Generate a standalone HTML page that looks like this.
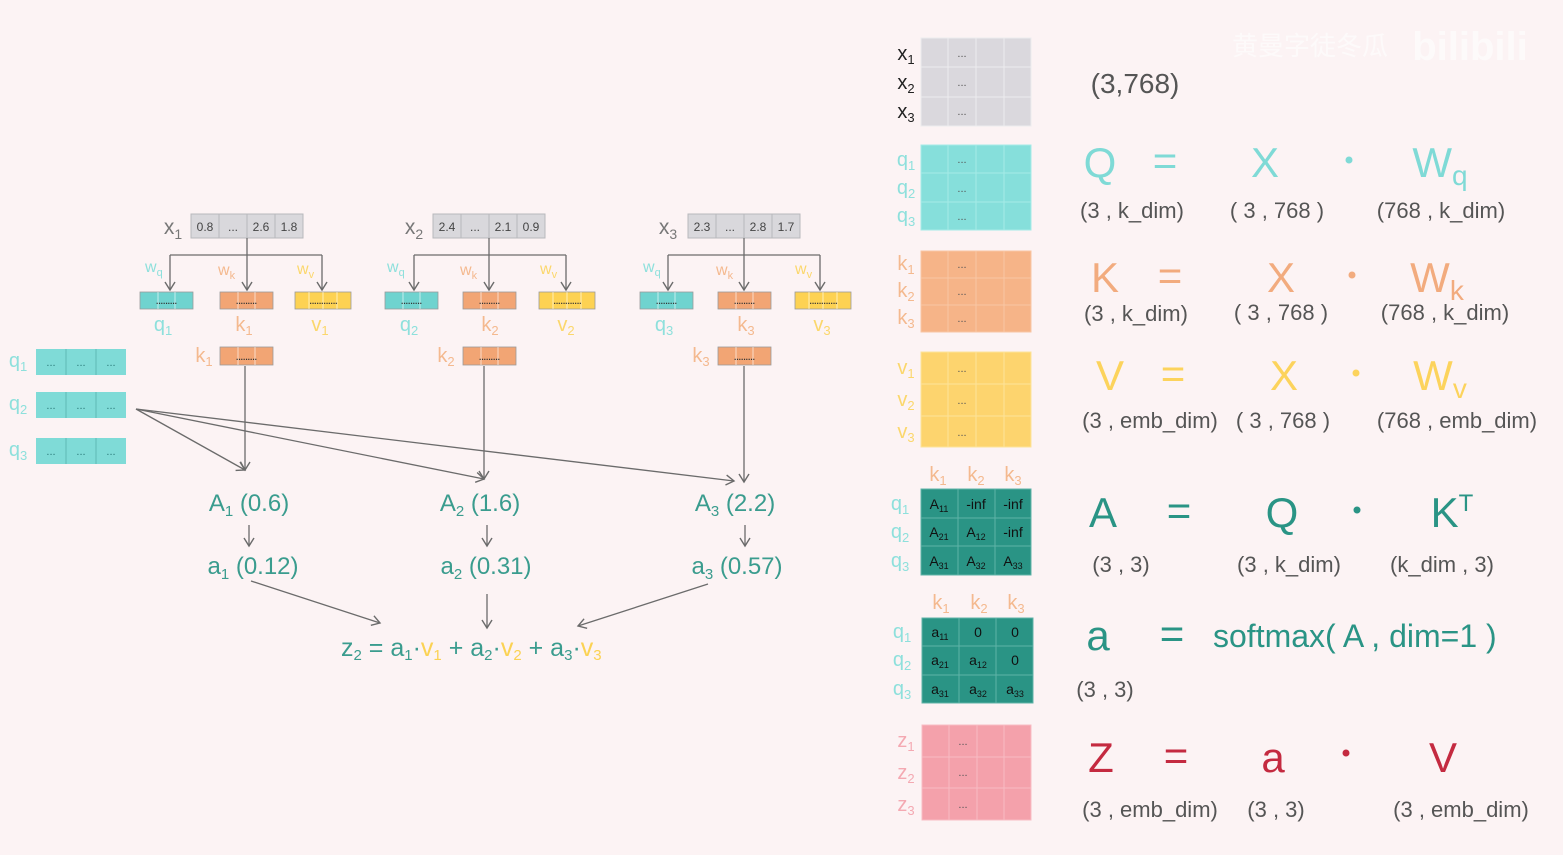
<!DOCTYPE html>
<html><head><meta charset="utf-8"><style>
html,body{margin:0;padding:0;background:#fcf3f4;}
svg{display:block;font-family:"Liberation Sans","Noto Sans CJK SC",sans-serif;}
</style></head><body>
<svg width="1563" height="855" viewBox="0 0 1563 855" xmlns="http://www.w3.org/2000/svg">
<defs>
<marker id="ar" markerWidth="12" markerHeight="12" refX="10" refY="6" orient="auto" markerUnits="userSpaceOnUse">
<path d="M2,1 L10,6 L2,11" fill="none" stroke="#6b6b6b" stroke-width="1.4"/>
</marker>
</defs>
<rect width="1563" height="855" fill="#fcf3f4"/>
<text x="1310" y="55" font-size="26" fill="#ffffff" opacity="0.6" text-anchor="middle">黄曼字徒冬瓜</text>
<text x="1470" y="60" font-size="40" font-weight="bold" fill="#ffffff" opacity="0.6" text-anchor="middle">bilibili</text>

<!-- LEFT GROUPS -->
<g id="g1">
<text x="173" y="234" font-size="21" fill="#777" text-anchor="middle">x<tspan font-size="14" dy="5">1</tspan></text>
<g stroke="#b8b8bc" stroke-width="1" fill="#d9d8dc"><rect x="191" y="214" width="28" height="24"/><rect x="219" y="214" width="28" height="24"/><rect x="247" y="214" width="28" height="24"/><rect x="275" y="214" width="28" height="24"/></g>
<g font-size="12" fill="#444" text-anchor="middle"><text x="205" y="231">0.8</text><text x="233" y="231">...</text><text x="261" y="231">2.6</text><text x="289" y="231">1.8</text></g>
</g>
<g id="g2">
<text x="414" y="234" font-size="21" fill="#777" text-anchor="middle">x<tspan font-size="14" dy="5">2</tspan></text>
<g stroke="#b8b8bc" stroke-width="1" fill="#d9d8dc"><rect x="433" y="214" width="28" height="24"/><rect x="461" y="214" width="28" height="24"/><rect x="489" y="214" width="28" height="24"/><rect x="517" y="214" width="28" height="24"/></g>
<g font-size="12" fill="#444" text-anchor="middle"><text x="447" y="231">2.4</text><text x="475" y="231">...</text><text x="503" y="231">2.1</text><text x="531" y="231">0.9</text></g>
</g>
<g id="g3">
<text x="668" y="234" font-size="21" fill="#777" text-anchor="middle">x<tspan font-size="14" dy="5">3</tspan></text>
<g stroke="#b8b8bc" stroke-width="1" fill="#d9d8dc"><rect x="688" y="214" width="28" height="24"/><rect x="716" y="214" width="28" height="24"/><rect x="744" y="214" width="28" height="24"/><rect x="772" y="214" width="28" height="24"/></g>
<g font-size="12" fill="#444" text-anchor="middle"><text x="702" y="231">2.3</text><text x="730" y="231">...</text><text x="758" y="231">2.8</text><text x="786" y="231">1.7</text></g>
</g>

<!-- trees -->
<g stroke="#6b6b6b" stroke-width="1.3" fill="none">
<path d="M247,238 V290" marker-end="url(#ar)"/><path d="M170,255 H322"/><path d="M170,255 V290" marker-end="url(#ar)"/><path d="M322,255 V290" marker-end="url(#ar)"/>
<path d="M489,238 V290" marker-end="url(#ar)"/><path d="M414,255 H566"/><path d="M414,255 V290" marker-end="url(#ar)"/><path d="M566,255 V290" marker-end="url(#ar)"/>
<path d="M744,238 V290" marker-end="url(#ar)"/><path d="M668,255 H820"/><path d="M668,255 V290" marker-end="url(#ar)"/><path d="M820,255 V290" marker-end="url(#ar)"/>
</g>
<g font-size="16">
<text x="145" y="272" fill="#8ee0dc">w<tspan font-size="11" dy="4">q</tspan></text>
<text x="218" y="275" fill="#f4b98f">w<tspan font-size="11" dy="4">k</tspan></text>
<text x="297" y="274" fill="#fbd76c">w<tspan font-size="11" dy="4">v</tspan></text>
<text x="387" y="272" fill="#8ee0dc">w<tspan font-size="11" dy="4">q</tspan></text>
<text x="460" y="275" fill="#f4b98f">w<tspan font-size="11" dy="4">k</tspan></text>
<text x="540" y="274" fill="#fbd76c">w<tspan font-size="11" dy="4">v</tspan></text>
<text x="643" y="272" fill="#8ee0dc">w<tspan font-size="11" dy="4">q</tspan></text>
<text x="716" y="275" fill="#f4b98f">w<tspan font-size="11" dy="4">k</tspan></text>
<text x="795" y="274" fill="#fbd76c">w<tspan font-size="11" dy="4">v</tspan></text>
</g>

<!-- qkv small boxes -->
<g stroke="#9a9a9a" stroke-width="0.8">
<g fill="#6fd3cf"><rect x="140" y="292" width="53" height="17"/><rect x="385" y="292" width="53" height="17"/><rect x="640" y="292" width="53" height="17"/></g>
<g fill="#f2a574"><rect x="220" y="292" width="53" height="17"/><rect x="463" y="292" width="53" height="17"/><rect x="718" y="292" width="53" height="17"/>
<rect x="220" y="347" width="53" height="18"/><rect x="463" y="347" width="53" height="18"/><rect x="718" y="347" width="53" height="18"/></g>
<g fill="#fdd253"><rect x="295" y="292" width="56" height="17"/><rect x="539" y="292" width="56" height="17"/><rect x="795" y="292" width="56" height="17"/></g>
</g>
<g stroke="#ffffff" stroke-opacity="0.6" stroke-width="1">
<path d="M158,292v17M175,292v17M403,292v17M420,292v17M658,292v17M675,292v17"/>
<path d="M238,292v17M255,292v17M481,292v17M498,292v17M736,292v17M753,292v17"/>
<path d="M238,347v18M255,347v18M481,347v18M498,347v18M736,347v18M753,347v18"/>
<path d="M309,292v17M323,292v17M337,292v17M553,292v17M567,292v17M581,292v17M809,292v17M823,292v17M837,292v17"/>
</g>
<g font-size="12" fill="#333" text-anchor="middle" letter-spacing="-1">
<text x="166" y="304">.........</text><text x="411" y="304">.........</text><text x="666" y="304">.........</text>
<text x="246" y="304">.........</text><text x="489" y="304">.........</text><text x="744" y="304">.........</text>
<text x="246" y="360">.........</text><text x="489" y="360">.........</text><text x="744" y="360">.........</text>
<text x="323" y="304">............</text><text x="567" y="304">............</text><text x="823" y="304">............</text>
</g>
<g font-size="20" text-anchor="middle">
<text x="163" y="331" fill="#8ee0dc">q<tspan font-size="13" dy="4">1</tspan></text>
<text x="244" y="331" fill="#f4b98f">k<tspan font-size="13" dy="4">1</tspan></text>
<text x="320" y="331" fill="#fbd76c">v<tspan font-size="13" dy="4">1</tspan></text>
<text x="409" y="331" fill="#8ee0dc">q<tspan font-size="13" dy="4">2</tspan></text>
<text x="490" y="331" fill="#f4b98f">k<tspan font-size="13" dy="4">2</tspan></text>
<text x="566" y="331" fill="#fbd76c">v<tspan font-size="13" dy="4">2</tspan></text>
<text x="664" y="331" fill="#8ee0dc">q<tspan font-size="13" dy="4">3</tspan></text>
<text x="746" y="331" fill="#f4b98f">k<tspan font-size="13" dy="4">3</tspan></text>
<text x="822" y="331" fill="#fbd76c">v<tspan font-size="13" dy="4">3</tspan></text>
<text x="204" y="362" fill="#f4b98f">k<tspan font-size="13" dy="4">1</tspan></text>
<text x="446" y="362" fill="#f4b98f">k<tspan font-size="13" dy="4">2</tspan></text>
<text x="701" y="362" fill="#f4b98f">k<tspan font-size="13" dy="4">3</tspan></text>
</g>

<!-- left q boxes -->
<g fill="#7fdbd7">
<rect x="36" y="349" width="90" height="26"/><rect x="36" y="392" width="90" height="26"/><rect x="36" y="438" width="90" height="26"/>
</g>
<g stroke="#5fb8b4" stroke-width="1"><path d="M66,349V375M96,349V375M66,392V418M96,392V418M66,438V464M96,438V464"/></g>
<g font-size="11" fill="#2a7a78" text-anchor="middle">
<text x="51" y="366">...</text><text x="81" y="366">...</text><text x="111" y="366">...</text>
<text x="51" y="409">...</text><text x="81" y="409">...</text><text x="111" y="409">...</text>
<text x="51" y="455">...</text><text x="81" y="455">...</text><text x="111" y="455">...</text>
</g>
<g font-size="20" fill="#8ee0dc" text-anchor="middle">
<text x="18" y="367">q<tspan font-size="13" dy="4">1</tspan></text>
<text x="18" y="410">q<tspan font-size="13" dy="4">2</tspan></text>
<text x="18" y="456">q<tspan font-size="13" dy="4">3</tspan></text>
</g>

<!-- connectors -->
<g stroke="#6b6b6b" stroke-width="1.3" fill="none">
<path d="M245,366 V470" marker-end="url(#ar)"/>
<path d="M484,366 V479" marker-end="url(#ar)"/>
<path d="M744,366 V482" marker-end="url(#ar)"/>
<path d="M136,409 L245,470" marker-end="url(#ar)"/>
<path d="M136,409 L484,479" marker-end="url(#ar)"/>
<path d="M136,409 L734,481" marker-end="url(#ar)"/>
<path d="M249,525 V546" marker-end="url(#ar)"/>
<path d="M487,525 V546" marker-end="url(#ar)"/>
<path d="M745,525 V546" marker-end="url(#ar)"/>
<path d="M251,581 L380,623" marker-end="url(#ar)"/>
<path d="M487,594 V628" marker-end="url(#ar)"/>
<path d="M708,584 L578,626" marker-end="url(#ar)"/>
</g>
<g font-size="24" fill="#3a9c8e" text-anchor="middle">
<text x="249" y="511">A<tspan font-size="15" dy="5">1</tspan><tspan dy="-5"> (0.6)</tspan></text>
<text x="480" y="511">A<tspan font-size="15" dy="5">2</tspan><tspan dy="-5"> (1.6)</tspan></text>
<text x="735" y="511">A<tspan font-size="15" dy="5">3</tspan><tspan dy="-5"> (2.2)</tspan></text>
<text x="253" y="574">a<tspan font-size="15" dy="5">1</tspan><tspan dy="-5"> (0.12)</tspan></text>
<text x="486" y="574">a<tspan font-size="15" dy="5">2</tspan><tspan dy="-5"> (0.31)</tspan></text>
<text x="737" y="574">a<tspan font-size="15" dy="5">3</tspan><tspan dy="-5"> (0.57)</tspan></text>
</g>
<text x="341" y="656" font-size="25" fill="#3a9c8e">z<tspan font-size="15" dy="4">2</tspan><tspan dy="-4"> = a</tspan><tspan font-size="15" dy="4">1</tspan><tspan dy="-4">·</tspan><tspan fill="#fbd253">v</tspan><tspan font-size="15" dy="4" fill="#fbd253">1</tspan><tspan dy="-4"> + a</tspan><tspan font-size="15" dy="4">2</tspan><tspan dy="-4">·</tspan><tspan fill="#fbd253">v</tspan><tspan font-size="15" dy="4" fill="#fbd253">2</tspan><tspan dy="-4"> + a</tspan><tspan font-size="15" dy="4">3</tspan><tspan dy="-4">·</tspan><tspan fill="#fbd253">v</tspan><tspan font-size="15" dy="4" fill="#fbd253">3</tspan></text>

<!-- RIGHT MATRICES -->
<g stroke="#ececee" stroke-width="1">
<rect x="921" y="38" width="110" height="88" fill="#dad8dd"/>
<path d="M948,38V126M976,38V126M1004,38V126M921,67H1031M921,97H1031"/>
</g>
<g stroke="#a5ebe7" stroke-width="1">
<rect x="921" y="145" width="110" height="85" fill="#86dfdb"/>
<path d="M948,145V230M976,145V230M1004,145V230M921,173H1031M921,202H1031"/>
</g>
<g stroke="#f8c6a4" stroke-width="1">
<rect x="921" y="251" width="110" height="81" fill="#f6b488"/>
<path d="M948,251V332M976,251V332M1004,251V332M921,278H1031M921,305H1031"/>
</g>
<g stroke="#fde39a" stroke-width="1">
<rect x="921" y="352" width="110" height="95" fill="#fdd46e"/>
<path d="M948,352V447M976,352V447M1004,352V447M921,384H1031M921,416H1031"/>
</g>
<g stroke="#f7bcc3" stroke-width="1">
<rect x="922" y="725" width="109" height="95" fill="#f4a1ab"/>
<path d="M949,725V820M977,725V820M1004,725V820M922,757H1031M922,788H1031"/>
</g>
<g font-size="11" fill="#555" text-anchor="middle">
<text x="962" y="57">...</text><text x="962" y="86">...</text><text x="962" y="115">...</text>
<text x="962" y="163">...</text><text x="962" y="192">...</text><text x="962" y="220">...</text>
<text x="962" y="268">...</text><text x="962" y="295">...</text><text x="962" y="322">...</text>
<text x="962" y="372">...</text><text x="962" y="404">...</text><text x="962" y="436">...</text>
<text x="963" y="745">...</text><text x="963" y="776">...</text><text x="963" y="808">...</text>
</g>
<g font-size="20" text-anchor="middle">
<g fill="#222"><text x="906" y="60">x<tspan font-size="13" dy="4">1</tspan></text><text x="906" y="89">x<tspan font-size="13" dy="4">2</tspan></text><text x="906" y="118">x<tspan font-size="13" dy="4">3</tspan></text></g>
<g fill="#8ee0dc"><text x="906" y="166">q<tspan font-size="13" dy="4">1</tspan></text><text x="906" y="194">q<tspan font-size="13" dy="4">2</tspan></text><text x="906" y="222">q<tspan font-size="13" dy="4">3</tspan></text></g>
<g fill="#f4b98f"><text x="906" y="270">k<tspan font-size="13" dy="4">1</tspan></text><text x="906" y="297">k<tspan font-size="13" dy="4">2</tspan></text><text x="906" y="324">k<tspan font-size="13" dy="4">3</tspan></text></g>
<g fill="#fbd76c"><text x="906" y="374">v<tspan font-size="13" dy="4">1</tspan></text><text x="906" y="406">v<tspan font-size="13" dy="4">2</tspan></text><text x="906" y="438">v<tspan font-size="13" dy="4">3</tspan></text></g>
<g fill="#f4a9b2"><text x="906" y="747">z<tspan font-size="13" dy="4">1</tspan></text><text x="906" y="779">z<tspan font-size="13" dy="4">2</tspan></text><text x="906" y="811">z<tspan font-size="13" dy="4">3</tspan></text></g>
<g fill="#8ee0dc"><text x="900" y="510">q<tspan font-size="13" dy="4">1</tspan></text><text x="900" y="538">q<tspan font-size="13" dy="4">2</tspan></text><text x="900" y="567">q<tspan font-size="13" dy="4">3</tspan></text>
<text x="902" y="638">q<tspan font-size="13" dy="4">1</tspan></text><text x="902" y="666">q<tspan font-size="13" dy="4">2</tspan></text><text x="902" y="695">q<tspan font-size="13" dy="4">3</tspan></text></g>
<g fill="#f4b98f"><text x="938" y="481">k<tspan font-size="13" dy="4">1</tspan></text><text x="976" y="481">k<tspan font-size="13" dy="4">2</tspan></text><text x="1013" y="481">k<tspan font-size="13" dy="4">3</tspan></text>
<text x="941" y="609">k<tspan font-size="13" dy="4">1</tspan></text><text x="979" y="609">k<tspan font-size="13" dy="4">2</tspan></text><text x="1016" y="609">k<tspan font-size="13" dy="4">3</tspan></text></g>
</g>
<g stroke="#5fb3a8" stroke-width="1">
<rect x="921" y="489" width="110" height="86" fill="#2a9485"/>
<path d="M958,489V575M995,489V575M921,518H1031M921,546H1031"/>
<rect x="922" y="618" width="111" height="85" fill="#2a9485"/>
<path d="M959,618V703M996,618V703M922,646H1033M922,675H1033"/>
</g>
<g font-size="14" fill="#111" text-anchor="middle">
<text x="939" y="509">A<tspan font-size="9" dy="3">11</tspan></text><text x="976" y="509">-inf</text><text x="1013" y="509">-inf</text>
<text x="939" y="537">A<tspan font-size="9" dy="3">21</tspan></text><text x="976" y="537">A<tspan font-size="9" dy="3">12</tspan></text><text x="1013" y="537">-inf</text>
<text x="939" y="566">A<tspan font-size="9" dy="3">31</tspan></text><text x="976" y="566">A<tspan font-size="9" dy="3">32</tspan></text><text x="1013" y="566">A<tspan font-size="9" dy="3">33</tspan></text>
<text x="940" y="637">a<tspan font-size="9" dy="3">11</tspan></text><text x="978" y="637">0</text><text x="1015" y="637">0</text>
<text x="940" y="665">a<tspan font-size="9" dy="3">21</tspan></text><text x="978" y="665">a<tspan font-size="9" dy="3">12</tspan></text><text x="1015" y="665">0</text>
<text x="940" y="694">a<tspan font-size="9" dy="3">31</tspan></text><text x="978" y="694">a<tspan font-size="9" dy="3">32</tspan></text><text x="1015" y="694">a<tspan font-size="9" dy="3">33</tspan></text>
</g>

<!-- equations -->
<text x="1135" y="93" font-size="28" fill="#555" text-anchor="middle">(3,768)</text>
<circle cx="1349" cy="160" r="3.5" fill="#7fdad6"/>
<circle cx="1352" cy="275" r="3.5" fill="#f2ab7e"/>
<circle cx="1356" cy="373" r="3.5" fill="#fcd35c"/>
<circle cx="1357" cy="510" r="3.5" fill="#2a9485"/>
<circle cx="1346" cy="753" r="3.5" fill="#c42a40"/>
<g text-anchor="middle">
<g fill="#7fdad6" font-size="42"><text x="1100" y="177">Q</text><text x="1165" y="175">=</text><text x="1265" y="177">X</text><text x="1440" y="177">W<tspan font-size="28" dy="8">q</tspan></text></g>
<g fill="#f2ab7e" font-size="42"><text x="1105" y="292">K</text><text x="1170" y="290">=</text><text x="1281" y="292">X</text><text x="1437" y="292">W<tspan font-size="28" dy="8">k</tspan></text></g>
<g fill="#fcd35c" font-size="42"><text x="1110" y="390">V</text><text x="1173" y="388">=</text><text x="1284" y="390">X</text><text x="1440" y="390">W<tspan font-size="28" dy="8">v</tspan></text></g>
<g fill="#555" font-size="22">
<text x="1132" y="218">(3 , k_dim)</text><text x="1277" y="218">( 3 , 768 )</text><text x="1441" y="218">(768 , k_dim)</text>
<text x="1136" y="321">(3 , k_dim)</text><text x="1281" y="320">( 3 , 768 )</text><text x="1445" y="320">(768 , k_dim)</text>
<text x="1150" y="428">(3 , emb_dim)</text><text x="1283" y="428">( 3 , 768 )</text><text x="1457" y="428">(768 , emb_dim)</text>
<text x="1121" y="572">(3 , 3)</text><text x="1289" y="572">(3 , k_dim)</text><text x="1442" y="572">(k_dim , 3)</text>
<text x="1105" y="697">(3 , 3)</text>
<text x="1150" y="817">(3 , emb_dim)</text><text x="1276" y="817">(3 , 3)</text><text x="1461" y="817">(3 , emb_dim)</text>
</g>
<g fill="#2a9485" font-size="42"><text x="1103" y="527">A</text><text x="1179" y="525">=</text><text x="1282" y="527">Q</text><text x="1452" y="527">K<tspan font-size="24" dy="-16">T</tspan></text>
<text x="1098" y="650">a</text><text x="1172" y="648">=</text></g>
<text x="1213" y="647" font-size="32" fill="#2a9485" text-anchor="start">softmax( A , dim=1 )</text>
<g fill="#c42a40" font-size="42"><text x="1101" y="772">Z</text><text x="1176" y="770">=</text><text x="1273" y="772">a</text><text x="1443" y="772">V</text></g>
</g>
</svg>
</body></html>
